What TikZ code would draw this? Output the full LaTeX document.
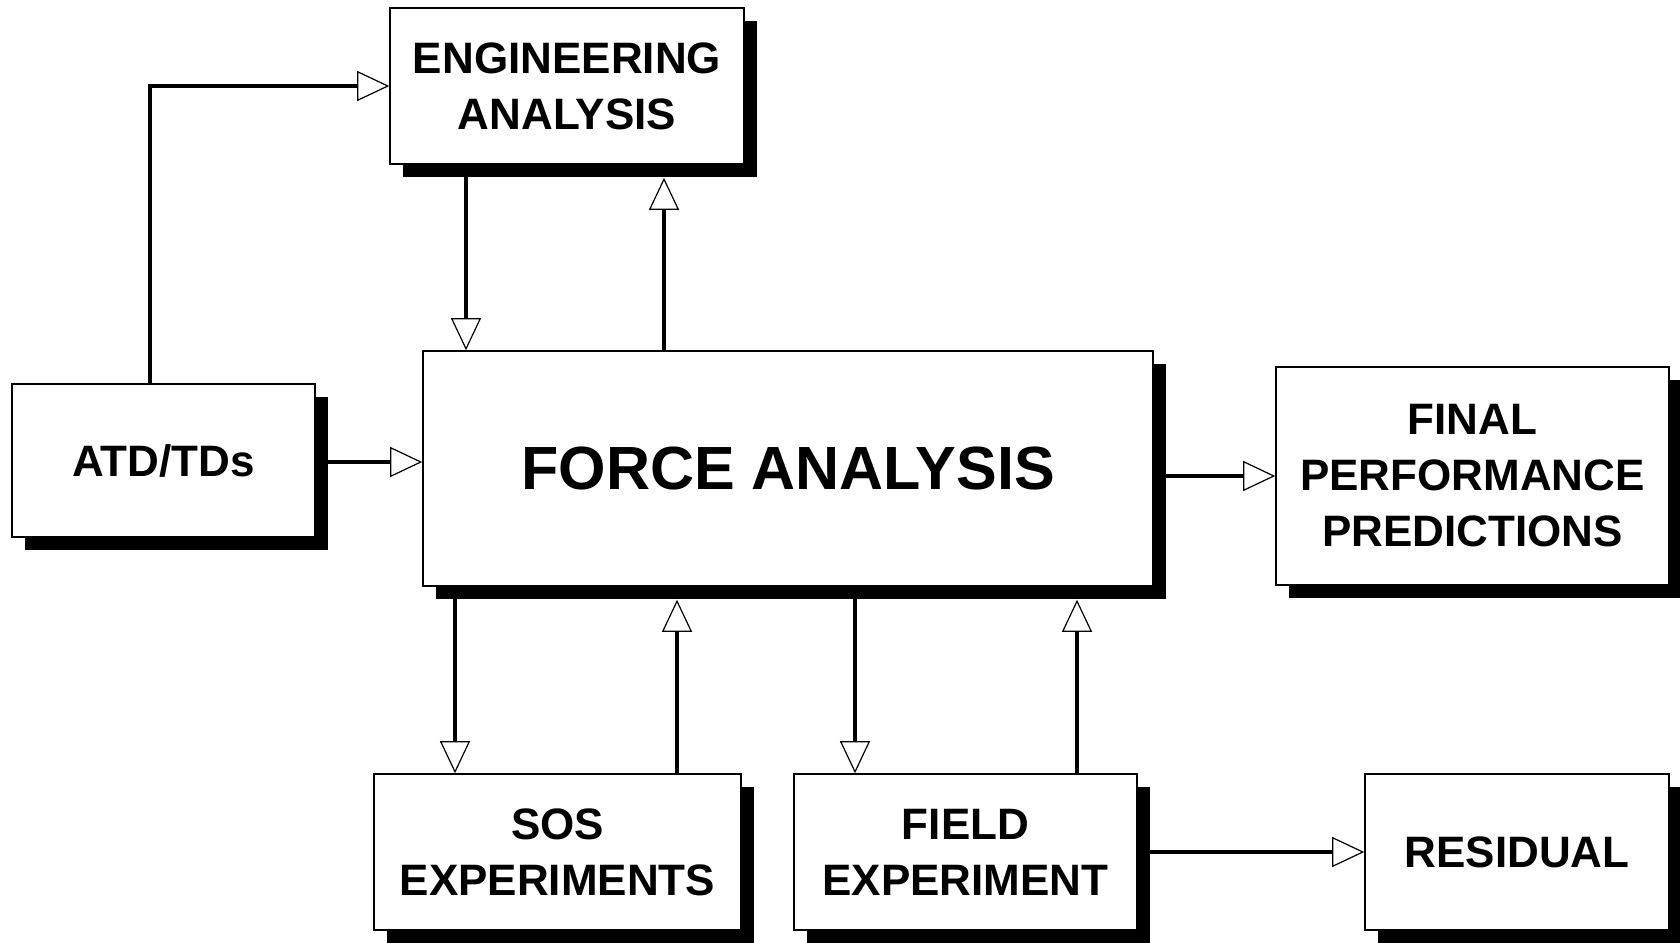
\documentclass[tikz,border=0pt]{standalone}
\usepackage{fontspec}
\setmainfont{Liberation Sans}
\usetikzlibrary{arrows.meta,shadows}

\begin{document}
\begin{tikzpicture}[x=0.5pt, y=-0.5pt,
	box/.style={draw, line width=0.8pt, fill=white, align=center, inner sep=0pt,
		font=\fontsize{22}{28}\selectfont\bfseries,
		general shadow={fill=black, shadow xshift=6.5pt, shadow yshift=-6.5pt}},
	flow/.style={line width=1.9pt, -{Triangle[length=16pt, width=15pt, fill=white, line width=0.6pt]}}]
	\useasboundingbox (0,0) rectangle (1680,942);
	% boxes
	\node[box, minimum width=177pt, minimum height=78pt] (eng) at (567,86) {ENGINEERING\\ANALYSIS};
	\node[box, minimum width=151.5pt, minimum height=76.5pt] (atd) at (163.5,460.5) {ATD/TDs};
	\node[box, minimum width=365pt, minimum height=117.5pt, font=\fontsize{30.5}{36}\selectfont\bfseries] (force) at (788,468.5) {FORCE ANALYSIS};
	\node[box, minimum width=196.5pt, minimum height=109pt] (final) at (1472.5,476) {FINAL\\PERFORMANCE\\PREDICTIONS};
	\node[box, minimum width=183.5pt, minimum height=78pt] (sos) at (557.5,852) {SOS\\EXPERIMENTS};
	\node[box, minimum width=171.5pt, minimum height=78pt] (field) at (965.5,852) {FIELD\\EXPERIMENT};
	\node[box, minimum width=152pt, minimum height=78pt] (resid) at (1517,852) {RESIDUAL};
	% positions of the links
	\coordinate (c1) at (150,0);
	\coordinate (c2) at (466,0);
	\coordinate (c3) at (664,0);
	\coordinate (c4) at (455,0);
	\coordinate (c5) at (677,0);
	\coordinate (c6) at (855,0);
	\coordinate (c7) at (1077,0);
	\coordinate (r1) at (0,462);
	% connectors
	\draw[flow] (atd.north -| c1) |- (eng.west);
	\draw[flow] (eng.south -| c2) -- (force.north -| c2);
	\draw[flow] (force.north -| c3) -- ([yshift=-6.5pt]eng.south -| c3);
	\draw[flow] (atd.east |- r1) -- (force.west |- r1);
	\draw[flow] (force.east |- final.west) -- (final.west);
	\draw[flow] (force.south -| c4) -- (sos.north -| c4);
	\draw[flow] (sos.north -| c5) -- ([yshift=-6.5pt]force.south -| c5);
	\draw[flow] (force.south -| c6) -- (field.north -| c6);
	\draw[flow] (field.north -| c7) -- ([yshift=-6.5pt]force.south -| c7);
	\draw[flow] (field.east) -- (resid.west);
\end{tikzpicture}
\end{document}
